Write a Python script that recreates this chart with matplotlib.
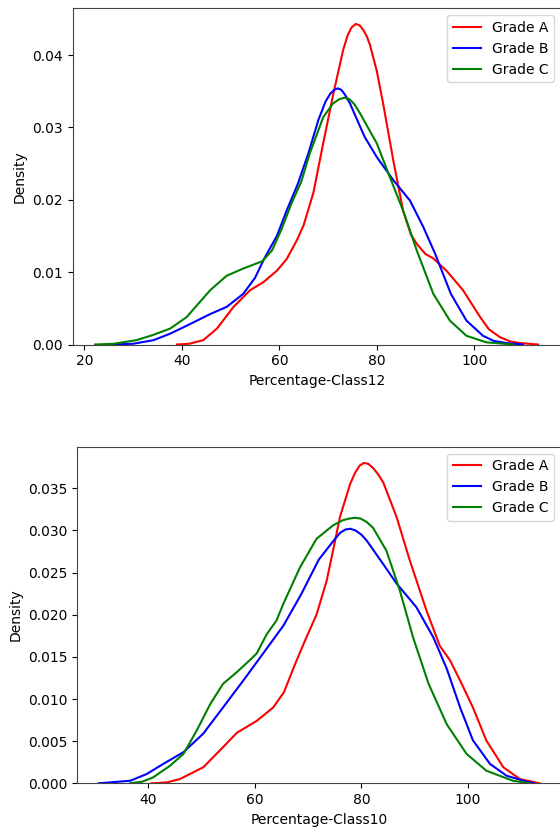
import matplotlib
matplotlib.use("Agg")
import matplotlib.pyplot as plt

# ---------- data ----------
series_names = ["Grade A", "Grade B", "Grade C"]
series_colors = ["red", "blue", "green"]

# Top panel: Percentage-Class12 density curves (x, density)
c12_a_x = [39.0, 41.5, 44.4, 47.2, 50.6, 54.0, 56.7, 59.5, 61.5, 63.6, 65.0, 67.0, 69.0, 71.1, 72.2, 73.1,
           74.0, 74.8, 75.7, 76.5, 77.3, 78.0, 78.6, 80.0, 81.3, 83.4, 85.4, 87.0, 88.2, 90.0, 91.6, 94.3,
           97.7, 101.2, 103.0, 105.3, 107.5, 109.4, 113.1]
c12_a_y = [0.0, 0.0001, 0.0006, 0.0022, 0.0052, 0.0075, 0.0086, 0.0102, 0.0118, 0.0144, 0.0165, 0.0210,
           0.0278, 0.0347, 0.0380, 0.0407, 0.0427, 0.0438, 0.0443, 0.0441, 0.0434, 0.0425, 0.0414, 0.0378,
           0.0333, 0.0254, 0.0185, 0.0152, 0.0139, 0.0125, 0.0119, 0.0102, 0.0075, 0.0038, 0.0021, 0.0010,
           0.0004, 0.0002, 0.0]

c12_b_x = [25.0, 30.0, 34.2, 37.6, 41.0, 45.8, 49.2, 52.6, 55.0, 57.0, 59.5, 61.5, 63.8, 66.0, 68.0,
           69.5, 70.5, 71.3, 72.0, 72.7, 73.4, 74.5, 76.0, 77.5, 80.0, 83.4, 86.8, 89.5, 92.0, 93.8, 95.2,
           98.4, 101.8, 104.0, 106.6, 110.0]
c12_b_y = [0.0, 0.0001, 0.0006, 0.0015, 0.0026, 0.0042, 0.0052, 0.0070, 0.0092, 0.0120, 0.0150, 0.0185,
           0.0222, 0.0265, 0.0310, 0.0336, 0.0347, 0.0352, 0.0354, 0.0352, 0.0346, 0.0333, 0.0310, 0.0287,
           0.0259, 0.0227, 0.0199, 0.0163, 0.0125, 0.0094, 0.0070, 0.0033, 0.0012, 0.0005, 0.0002, 0.0]

c12_c_x = [22.2, 26.0, 30.7, 34.0, 37.6, 41.0, 45.8, 49.2, 52.6, 56.5, 58.5, 60.5, 62.5, 64.5, 66.3,
           69.0, 71.0, 72.3, 73.4, 74.4, 75.4, 76.6, 78.0, 80.0, 82.7, 85.4, 88.2, 91.6, 95.0, 98.4,
           102.5, 108.0]
c12_c_y = [0.0, 0.0001, 0.0006, 0.0013, 0.0022, 0.0038, 0.0075, 0.0095, 0.0105, 0.0115, 0.0130, 0.0160,
           0.0195, 0.0225, 0.0265, 0.0314, 0.0333, 0.0339, 0.0341, 0.0339, 0.0332, 0.0319, 0.0302, 0.0278,
           0.0231, 0.0185, 0.0130, 0.0070, 0.0033, 0.0012, 0.0003, 0.0]

# Bottom panel: Percentage-Class10 density curves (x, density)
c10_a_x = [40.7, 43.5, 46.0, 50.4, 53.5, 56.7, 60.4, 63.5, 65.5, 67.5, 69.5, 71.6, 73.5, 74.7, 76.0,
           77.9, 78.8, 79.7, 80.5, 81.3, 82.2, 83.1, 84.1, 86.6, 89.1, 92.2, 94.7, 96.6, 98.5, 100.9,
           103.4, 106.6, 109.7, 113.4]
c10_a_y = [0.0, 0.0001, 0.0005, 0.0019, 0.0039, 0.0060, 0.0074, 0.0090, 0.0108, 0.0140, 0.0170, 0.0200,
           0.0240, 0.0276, 0.0316, 0.0355, 0.0368, 0.0377, 0.0380, 0.0379, 0.0374, 0.0367, 0.0357, 0.0316,
           0.0264, 0.0205, 0.0163, 0.0146, 0.0122, 0.0090, 0.0051, 0.0019, 0.0005, 0.0]

c10_b_x = [30.8, 36.7, 39.8, 42.9, 46.7, 50.4, 54.1, 57.9, 61.6, 65.4, 68.8, 72.0, 74.7, 76.0, 77.0,
           77.9, 78.9, 80.0, 81.0, 84.1, 86.6, 90.3, 93.5, 96.0, 98.5, 100.9, 104.1, 107.2, 110.9, 112.5]
c10_b_y = [0.0, 0.0003, 0.0011, 0.0023, 0.0037, 0.0059, 0.0090, 0.0122, 0.0154, 0.0187, 0.0225, 0.0265,
           0.0287, 0.0297, 0.0301, 0.0302, 0.0300, 0.0295, 0.0288, 0.0260, 0.0237, 0.0209, 0.0173, 0.0136,
           0.0090, 0.0051, 0.0023, 0.0009, 0.0002, 0.0]

c10_c_x = [36.7, 39.0, 41.0, 44.2, 46.7, 49.2, 51.7, 54.1, 56.7, 59.1, 60.4, 62.3, 64.1, 65.4, 68.5,
           71.6, 74.7, 76.5, 77.7, 78.8, 79.9, 81.0, 82.2, 84.7, 87.2, 89.7, 92.6, 96.0, 99.7, 103.4,
           108.4, 111.5]
c10_c_y = [0.0, 0.0002, 0.0007, 0.0021, 0.0035, 0.0063, 0.0094, 0.0118, 0.0132, 0.0146, 0.0154, 0.0177,
           0.0193, 0.0213, 0.0256, 0.0290, 0.0306, 0.0312, 0.0314, 0.0315, 0.0314, 0.0310, 0.0303, 0.0276,
           0.0229, 0.0173, 0.0118, 0.0070, 0.0035, 0.0015, 0.0003, 0.0]

top_xlabel = "Percentage-Class12"
bot_xlabel = "Percentage-Class10"
top_xticks = [20, 40, 60, 80, 100]
top_yticks = [0.00, 0.01, 0.02, 0.03, 0.04]
bot_xticks = [40, 60, 80, 100]
bot_yticks = [0.000, 0.005, 0.010, 0.015, 0.020, 0.025, 0.030, 0.035]

# ---------- figure ----------
W, H = 560, 835
dpi = 100
plt.rcParams['font.family'] = ['DejaVu Sans']
fig = plt.figure(figsize=(W / dpi, H / dpi), dpi=dpi)


def add_axes_px(left, top, right, bottom):
    return fig.add_axes([left / W, 1 - bottom / H, (right - left) / W, (bottom - top) / H])


ax1 = add_axes_px(72.7, 8.3, 561, 344.5)
ax2 = add_axes_px(77.3, 446.7, 561, 783.3)

top_curves = [(c12_a_x, c12_a_y), (c12_b_x, c12_b_y), (c12_c_x, c12_c_y)]
bot_curves = [(c10_a_x, c10_a_y), (c10_b_x, c10_b_y), (c10_c_x, c10_c_y)]

for ax, curves, xl, xt, yt, xlim, ylim, yfmt in [
    (ax1, top_curves, top_xlabel, top_xticks, top_yticks, (17.6, 117.8), (0, 0.04646), "{:.2f}"),
    (ax2, bot_curves, bot_xlabel, bot_xticks, bot_yticks, (26.8, 117.4), (0, 0.03993), "{:.3f}"),
]:
    for (xs, ys), name, col in zip(curves, series_names, series_colors):
        ax.plot(xs, ys, color=col, lw=1.5, label=name, solid_joinstyle="round")
    ax.set_xlim(*xlim)
    ax.set_ylim(*ylim)
    ax.set_xticks(xt)
    ax.set_yticks(yt)
    ax.set_yticklabels([yfmt.format(v) for v in yt])
    ax.set_xlabel(xl)
    ax.set_ylabel("Density")
    for s in ax.spines.values():
        s.set_color("#444444")
    ax.legend(loc="upper right")

fig.savefig("out.png", dpi=dpi)
